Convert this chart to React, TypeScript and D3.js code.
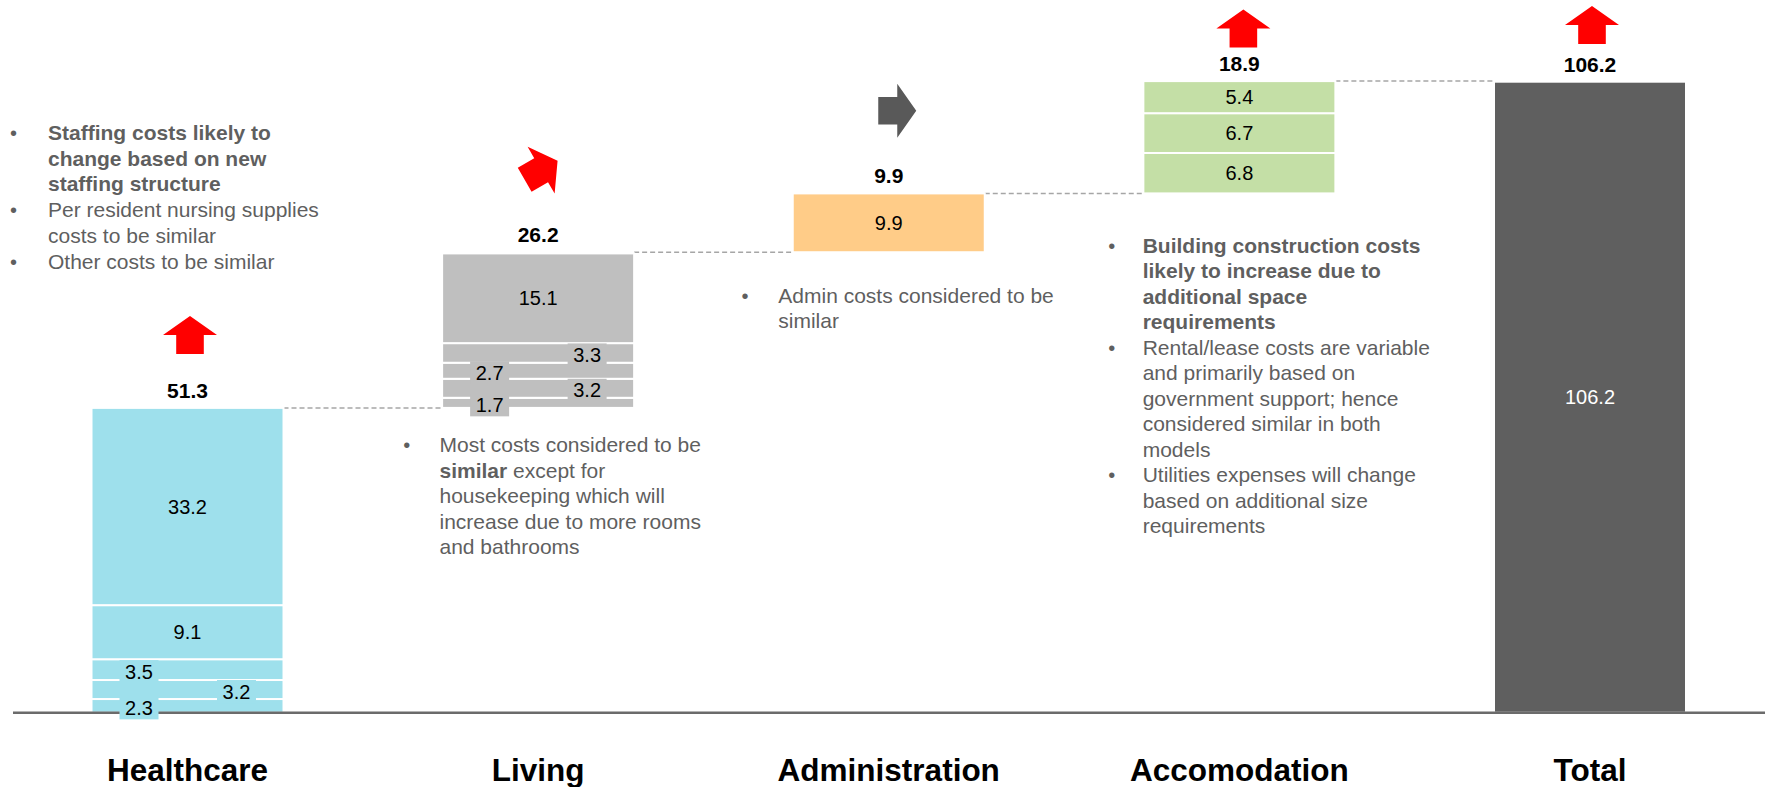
import * as d3 from 'd3';

const categories = ['Healthcare', 'Living', 'Administration', 'Accomodation', 'Total'];
const totals = [51.3, 26.2, 9.9, 18.9, 106.2];
// stacked components of each bar, listed bottom to top
const healthcareParts = [2.3, 3.2, 3.5, 9.1, 33.2];
const livingParts = [1.7, 3.2, 2.7, 3.3, 15.1];
const adminParts = [9.9];
const accomodationParts = [6.8, 6.7, 5.4];
const totalParts = [106.2];
const barColors = ['#9ee0ec', '#bfbfbf', '#ffcc88', '#c4dfa6', '#5f5f5f'];
const labelColors = ['#000', '#000', '#000', '#000', '#fff'];
// change indicator per category: degrees clockwise from "up"
const arrowDirections = [0, 60, 90, 0, 0];
const arrowColors = ['#ff0000', '#ff0000', '#595959', '#ff0000', '#ff0000'];

const healthcareNotes = [
  '• **Staffing costs likely to**',
  '**change based on new**',
  '**staffing structure**',
  '• Per resident nursing supplies',
  'costs to be similar',
  '• Other costs to be similar',
];
const livingNotes = [
  '• Most costs considered to be',
  '**similar** except for',
  'housekeeping which will',
  'increase due to more rooms',
  'and bathrooms',
];
const adminNotes = ['• Admin costs considered to be', 'similar'];
const accomodationNotes = [
  '• **Building construction costs**',
  '**likely to increase due to**',
  '**additional space**',
  '**requirements**',
  '• Rental/lease costs are variable',
  'and primarily based on',
  'government support; hence',
  'considered similar in both',
  'models',
  '• Utilities expenses will change',
  'based on additional size',
  'requirements',
];

const parts = [healthcareParts, livingParts, adminParts, accomodationParts, totalParts];

// ---- layout ----
const W = 1768;
const H = 787;
const FONT = '"Liberation Sans", Arial, Helvetica, sans-serif';
const TEXT_GREY = '#5f5f5f';

const x = d3.scaleBand<string>()
  .domain(categories)
  .range([91.5, 1686])
  .paddingInner(0.4524)
  .paddingOuter(0);

const y = d3.scaleLinear().domain([0, 106.2]).range([712.7, 81.7]);

// arrow placement relative to bar centre / bar top
const arrowOffsets = [[2.5, 73], [3, 82], [8.5, 82.6], [4, 52.5], [2, 56.7]];

const noteBlocks = [
  { lines: healthcareNotes, tx: 48, bx: 13.5, y0: 140, lh: 25.7 },
  { lines: livingNotes, tx: 439.5, bx: 406.7, y0: 452, lh: 25.5 },
  { lines: adminNotes, tx: 778.3, bx: 745, y0: 303.3, lh: 25 },
  { lines: accomodationNotes, tx: 1142.7, bx: 1111.7, y0: 252.5, lh: 25.5 },
];

// waterfall bases: each step starts where the previous ended, total starts at 0
const bases = totals.map((_, i) =>
  i === totals.length - 1 ? 0 : d3.sum(totals.slice(0, i))
);

function Arrow({ cx, cy, rot, color }) {
  const d = 'M0,-19 L27,0 L13.8,0 L13.8,19 L-13.8,19 L-13.8,0 L-27,0 Z';
  return <path d={d} fill={color} transform={`translate(${cx},${cy}) rotate(${rot})`} />;
}

function NoteLine({ text, tx, bx, yy }) {
  let t = text;
  const bullet = t.startsWith('• ');
  if (bullet) t = t.slice(2);
  const runs = t.split('**');
  return (
    <g>
      {bullet && (
        <text x={bx} y={yy} textAnchor="middle" fill={TEXT_GREY} fontSize={20}>•</text>
      )}
      <text x={tx} y={yy} fill={TEXT_GREY} fontSize={21}>
        {runs.map((r, i) =>
          r ? <tspan key={i} fontWeight={i % 2 === 1 ? 'bold' : 'normal'}>{r}</tspan> : null
        )}
      </text>
    </g>
  );
}

function stackOf(ci) {
  let acc = bases[ci];
  return parts[ci].map(v => {
    const s = { v, y0: acc, y1: acc + v };
    acc += v;
    return s;
  });
}

export default function App() {
  const bw = x.bandwidth();

  return (
    <svg
      width={W}
      height={H}
      style={{ position: 'absolute', left: 0, top: 0, background: '#fff' }}
      fontFamily={FONT}
    >
      {/* connectors */}
      {categories.slice(0, -1).map((c, i) => {
        const level = d3.sum(totals.slice(0, i + 1));
        return (
          <line
            key={'conn' + c}
            x1={x(c) + bw}
            x2={x(categories[i + 1])}
            y1={y(level)}
            y2={y(level)}
            stroke="#a6a6a6"
            strokeWidth={1.5}
            strokeDasharray="5,3"
          />
        );
      })}

      {/* stacked bars */}
      {categories.map((c, ci) =>
        stackOf(ci).map((s, si) => (
          <rect
            key={c + si}
            x={x(c)}
            y={y(s.y1)}
            width={bw}
            height={y(s.y0) - y(s.y1)}
            fill={barColors[ci]}
            stroke="#fff"
            strokeWidth={2}
          />
        ))
      )}

      {/* baseline */}
      <line x1={13} x2={1765} y1={y(0)} y2={y(0)} stroke="#6b6b6b" strokeWidth={2.5} />

      {/* segment labels */}
      {categories.map((c, ci) => {
        let small = 0;
        const cx = x(c) + bw / 2;
        return (
          <g key={'lab' + c}>
            {stackOf(ci).map((s, si) => {
              const mid = (y(s.y0) + y(s.y1)) / 2;
              if (s.v < 4) {
                const side = small % 2 === 0 ? -48.5 : 49;
                small++;
                const ty = mid + 2;
                return (
                  <g key={'l' + si}>
                    <rect x={cx + side - 19.5} y={ty - 11.5} width={39} height={23} fill={barColors[ci]} />
                    <text x={cx + side} y={ty} dy="0.35em" textAnchor="middle" fontSize={20} fill={labelColors[ci]}>
                      {s.v.toFixed(1)}
                    </text>
                  </g>
                );
              }
              return (
                <text key={'l' + si} x={cx} y={mid} dy="0.35em" textAnchor="middle" fontSize={20} fill={labelColors[ci]}>
                  {s.v.toFixed(1)}
                </text>
              );
            })}
          </g>
        );
      })}

      {/* totals above bars + arrows */}
      {categories.map((c, ci) => {
        const cx = x(c) + bw / 2;
        const top = y(bases[ci] + totals[ci]);
        const [dx, lift] = arrowOffsets[ci];
        return (
          <g key={'t' + c}>
            <text x={cx} y={top - 10} textAnchor="middle" fontSize={21} fontWeight="bold" fill="#000">
              {totals[ci].toFixed(1)}
            </text>
            <Arrow cx={cx + dx} cy={top - lift} rot={arrowDirections[ci]} color={arrowColors[ci]} />
          </g>
        );
      })}

      {/* category labels */}
      {categories.map(c => (
        <text key={'c' + c} x={x(c) + bw / 2} y={781} textAnchor="middle" fontSize={31.5} fontWeight="bold" fill="#000">
          {c}
        </text>
      ))}

      {/* notes */}
      {noteBlocks.map((b, bi) =>
        b.lines.map((ln, li) => (
          <NoteLine key={bi + '-' + li} text={ln} tx={b.tx} bx={b.bx} yy={b.y0 + li * b.lh} />
        ))
      )}
    </svg>
  );
}
